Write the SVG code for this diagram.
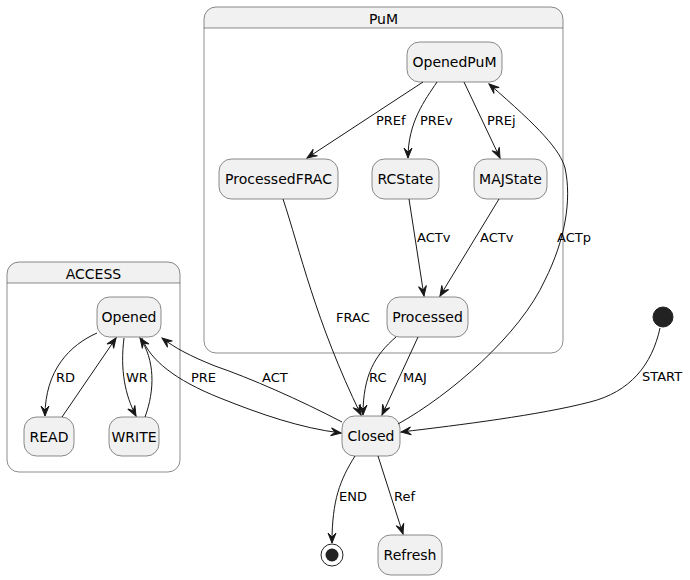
<svg xmlns="http://www.w3.org/2000/svg" width="690" height="580" viewBox="0 0 690 580">
<defs>
<marker id="ah" viewBox="-11 -6 12 12" refX="0" refY="0" markerWidth="12" markerHeight="12" orient="auto" markerUnits="userSpaceOnUse">
<path d="M0,0 L-10,-4 L-6,0 L-10,4 Z" fill="#181818" stroke="#181818" stroke-width="1" stroke-linejoin="miter"/>
</marker>
<style>
.cont{fill:none;stroke:#181818;stroke-width:0.5}
.hdr{fill:#F1F1F1;stroke:none}
.st{fill:#F1F1F1;stroke:#181818;stroke-width:0.5}
.t{font-family:"DejaVu Sans",sans-serif;font-size:14px;fill:#000;text-anchor:middle}
.l{font-family:"DejaVu Sans",sans-serif;font-size:13px;fill:#000}
.e{fill:none;stroke:#181818;stroke-width:1;marker-end:url(#ah)}
</style>
</defs>
<rect width="690" height="580" fill="#FFFFFF"/>

<g id="PuM">
<path class="hdr" d="M204,28 L204,19 Q204,7 216,7 L551,7 Q563,7 563,19 L563,28 Z"/>
<rect class="cont" x="204" y="7" width="359" height="346" rx="12" ry="12"/>
<line x1="204" y1="28" x2="563" y2="28" stroke="#181818" stroke-width="0.5"/>
<text class="t" x="383.5" y="24">PuM</text>
</g>

<g id="ACCESS">
<path class="hdr" d="M7,283 L7,274 Q7,262 19,262 L168,262 Q180,262 180,274 L180,283 Z"/>
<rect class="cont" x="7" y="262" width="173" height="210" rx="12" ry="12"/>
<line x1="7" y1="283" x2="180" y2="283" stroke="#181818" stroke-width="0.5"/>
<text class="t" x="93.5" y="279">ACCESS</text>
</g>

<g id="OpenedPuM"><rect class="st" x="407" y="42" width="95" height="40" rx="12.5"/><text class="t" x="454.5" y="67">OpenedPuM</text></g>
<g id="ProcessedFRAC"><rect class="st" x="219" y="159" width="119" height="40" rx="12.5"/><text class="t" x="278.5" y="184">ProcessedFRAC</text></g>
<g id="RCState"><rect class="st" x="372" y="159" width="67" height="40" rx="12.5"/><text class="t" x="405.5" y="184">RCState</text></g>
<g id="MAJState"><rect class="st" x="474" y="159" width="73" height="40" rx="12.5"/><text class="t" x="510.5" y="184">MAJState</text></g>
<g id="Processed"><rect class="st" x="387" y="297" width="81" height="40" rx="12.5"/><text class="t" x="427.5" y="322">Processed</text></g>
<g id="Opened"><rect class="st" x="97" y="297" width="64" height="40" rx="12.5"/><text class="t" x="129" y="322">Opened</text></g>
<g id="READ"><rect class="st" x="24" y="417" width="50" height="39" rx="12.5"/><text class="t" x="49" y="441.5">READ</text></g>
<g id="WRITE"><rect class="st" x="109" y="417" width="50" height="39" rx="12.5"/><text class="t" x="134" y="441.5">WRITE</text></g>
<g id="Closed"><rect class="st" x="342" y="416" width="58" height="40" rx="12.5"/><text class="t" x="371" y="441">Closed</text></g>
<g id="Refresh"><rect class="st" x="378" y="535" width="64" height="40" rx="12.5"/><text class="t" x="410" y="560">Refresh</text></g>
<g id="start"><circle cx="663" cy="317" r="10" fill="#222222" stroke="#222222" stroke-width="1"/></g>
<g id="end"><circle cx="332" cy="555" r="11" fill="none" stroke="#222222" stroke-width="1"/><circle cx="332" cy="555" r="6.5" fill="#222222"/></g>

<g id="connectors">
<path class="e" d="M423,82 L307,158"/>
<path class="e" d="M437,82 C425,100 408,122 408,158"/>
<path class="e" d="M464,82 L500,158"/>
<path class="e" d="M398,424 C450,395 520,335 545,280 C565,240 572,200 565,168 C560,150 540,128 489,84"/>
<path class="e" d="M283,199 C300,250 315,320 361,415"/>
<path class="e" d="M409,199 L424,296"/>
<path class="e" d="M499,199 L440,296"/>
<path class="e" d="M396,337 C375,355 363,375 363,415"/>
<path class="e" d="M418,337 L382,415"/>
<path class="e" d="M142,338 C150,360 175,380 220,398 C260,414 300,428 341,433"/>
<path class="e" d="M342,422 C300,400 250,378 215,366 C190,356 175,348 162,338"/>
<path class="e" d="M97,333 C70,345 45,370 45,416"/>
<path class="e" d="M62,417 L116,338"/>
<path class="e" d="M124,338 C120,370 125,395 136,416"/>
<path class="e" d="M145,417 C155,390 155,360 140,338"/>
<path class="e" d="M660,328 C652,365 630,392 590,402 C540,415 460,425 401,432"/>
<path class="e" d="M355,456 C340,480 332,500 332,543"/>
<path class="e" d="M378,456 L403,534"/>
</g>

<g id="labels">
<text class="l" x="376" y="125">PREf</text>
<text class="l" x="420" y="125">PREv</text>
<text class="l" x="487" y="125">PREj</text>
<text class="l" x="417" y="242">ACTv</text>
<text class="l" x="480" y="242">ACTv</text>
<text class="l" x="557" y="242">ACTp</text>
<text class="l" x="336" y="322">FRAC</text>
<text class="l" x="191" y="382">PRE</text>
<text class="l" x="262" y="382">ACT</text>
<text class="l" x="369" y="382">RC</text>
<text class="l" x="403" y="382">MAJ</text>
<text class="l" x="56" y="382">RD</text>
<text class="l" x="126" y="382">WR</text>
<text class="l" x="339" y="501">END</text>
<text class="l" x="394" y="501">Ref</text>
<text class="l" x="642" y="381">START</text>
</g>
</svg>
